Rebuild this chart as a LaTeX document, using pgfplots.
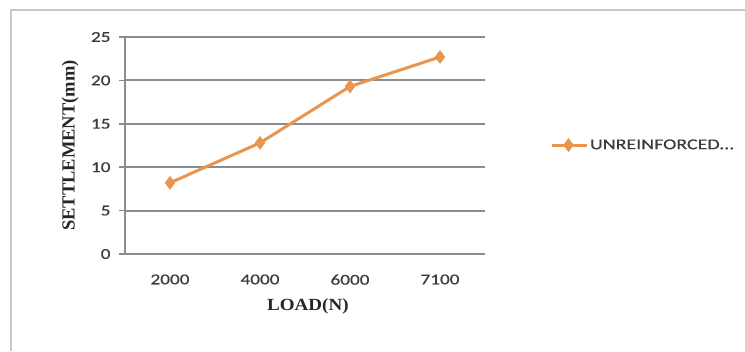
\documentclass[border=0pt]{standalone}
\usepackage{fontspec}
\setmainfont{Carlito}
\newfontfamily\tickfont[FakeStretch=1.28, FakeBold=0.6]{Carlito}
\newfontfamily\legfont[FakeStretch=1.33, FakeBold=0.6]{Carlito}
\newfontfamily\titlefont[FakeStretch=1.12]{Liberation Serif}
\newfontfamily\ytitlefont{Liberation Serif}
\usepackage{pgfplots}
\pgfplotsset{compat=1.18}
\definecolor{lineorange}{RGB}{232,150,78}
\definecolor{gridgray}{RGB}{140,140,140}
\definecolor{framegray}{RGB}{200,200,200}
\definecolor{textgray}{RGB}{60,60,60}
\begin{document}
\begin{tikzpicture}[x=1bp,y=1bp]
\useasboundingbox (0,0) rectangle (745,351);
\fill[white] (0,0) rectangle (745,351);
\draw[framegray,line width=2bp] (11,0) -- (11,341) -- (745,341);
\begin{axis}[
  at={(125bp,97bp)}, anchor=south west,
  scale only axis, width=360bp, height=217bp,
  xmin=-0.5, xmax=3.5, ymin=0, ymax=25,
  xtick={0,1,2,3}, xticklabels={2000,4000,6000,7100},
  minor xtick={-0.5,0.5,1.5,2.5,3.5},
  ytick={0,5,10,15,20,25},
  axis x line=bottom, axis y line=left,
  axis line style={gridgray, line width=1.6bp, -},
  tick align=outside,
  major tick length=6bp, minor tick length=6bp,
  xtick style={draw=none},
  minor x tick style={gridgray, line width=1.6bp},
  ytick style={gridgray, line width=1.6bp},
  ymajorgrids, grid style={gridgray, line width=1.8bp},
  /pgf/number format/assume math mode=true,
  ticklabel style={font=\tickfont\fontsize{15bp}{18bp}\selectfont, text=textgray},
  xticklabel style={yshift=-11bp},
  yticklabel style={xshift=-5bp},
  xlabel={LOAD(N)}, ylabel={SETTLEMENT(mm)},
  xlabel style={at={(axis description cs:0.508,-0.24)}, anchor=center, font=\titlefont\bfseries\fontsize{17bp}{20bp}\selectfont, text=black!85},
  ylabel style={at={(axis description cs:-0.152,0.5)}, anchor=center, font=\ytitlefont\bfseries\fontsize{18.5bp}{20bp}\selectfont, text=black!85},
  legend style={at={(1.18,0.502)}, anchor=west, draw=none, fill=none,
    font=\legfont\fontsize{15bp}{18bp}\selectfont, text=textgray,
    legend cell align=left, inner sep=0pt},
  legend image code/.code={\draw[#1, mark repeat=2, mark phase=2] plot coordinates {(0bp,0bp) (17bp,0bp) (35bp,0bp)};},
  clip=false,
]
\addplot[lineorange, line width=3bp, mark=diamond*, mark size=6.5bp, mark options={fill=lineorange, draw=lineorange, line width=0.5bp}]
  coordinates {(0,8.2) (1,12.8) (2,19.3) (3,22.7)};
\addlegendentry{UNREINFORCED...}
\end{axis}
\end{tikzpicture}
\end{document}
